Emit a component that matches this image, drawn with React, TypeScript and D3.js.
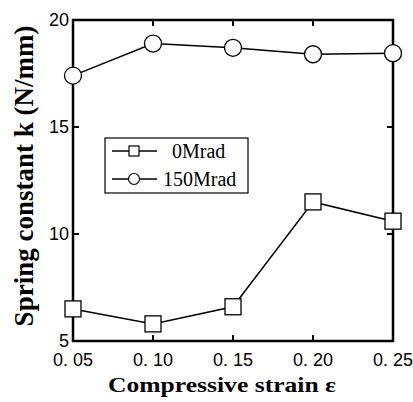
import * as d3 from "d3";
import { useEffect, useRef } from "react";

// strain values and spring constants
const strain = [0.05, 0.1, 0.15, 0.2, 0.25];
const k0 = [6.5, 5.8, 6.6, 11.5, 10.6];
const k150 = [17.4, 18.9, 18.7, 18.4, 18.45];
const xTicks = [0.05, 0.1, 0.15, 0.2, 0.25];
const xTickLabels = ["0. 05", "0. 10", "0. 15", "0. 20", "0. 25"];
const yTicks = [5, 10, 15, 20];
const seriesNames = ["0Mrad", "150Mrad"];

const App = () => {
  const ref = useRef<SVGSVGElement>(null);

  useEffect(() => {
    const svg = d3.select(ref.current);
    svg.selectAll("*").remove();

    const W = 413, H = 402;
    const margin = { top: 20, right: 20, bottom: 61, left: 73 };
    const width = W - margin.left - margin.right;
    const height = H - margin.top - margin.bottom;

    const g = svg.append("g").attr("transform", `translate(${margin.left},${margin.top})`);

    const x = d3.scaleLinear().domain([0.05, 0.25]).range([0, width]);
    const y = d3.scaleLinear().domain([5, 20]).range([height, 0]);

    // frame
    g.append("rect")
      .attr("width", width).attr("height", height)
      .attr("fill", "none").attr("stroke", "#000").attr("stroke-width", 2.5);

    // inward ticks on all sides
    const tl = 6;
    xTicks.forEach((t) => {
      g.append("line").attr("x1", x(t)).attr("x2", x(t)).attr("y1", height).attr("y2", height - tl)
        .attr("stroke", "#000").attr("stroke-width", 2);
      g.append("line").attr("x1", x(t)).attr("x2", x(t)).attr("y1", 0).attr("y2", tl)
        .attr("stroke", "#000").attr("stroke-width", 2);
    });
    yTicks.forEach((t) => {
      g.append("line").attr("x1", 0).attr("x2", tl).attr("y1", y(t)).attr("y2", y(t))
        .attr("stroke", "#000").attr("stroke-width", 2);
      g.append("line").attr("x1", width).attr("x2", width - tl).attr("y1", y(t)).attr("y2", y(t))
        .attr("stroke", "#000").attr("stroke-width", 2);
    });

    // tick labels
    g.selectAll(".xl").data(xTicks).enter().append("text")
      .attr("x", (d) => x(d)).attr("y", height + 25)
      .attr("text-anchor", "middle")
      .style("font", "18px 'Liberation Sans', Arial, sans-serif")
      .text((d, i) => xTickLabels[i]);
    g.selectAll(".yl").data(yTicks).enter().append("text")
      .attr("x", -4).attr("y", (d) => y(d) + 6)
      .attr("text-anchor", "end")
      .style("font", "18px 'Liberation Sans', Arial, sans-serif")
      .text((d) => d);

    // axis titles
    svg.append("text")
      .attr("transform", "translate(222, 392) scale(1.28,1)")
      .attr("text-anchor", "middle")
      .style("font", "bold 20px 'Liberation Serif', 'Times New Roman', serif")
      .text("Compressive strain  ε");
    svg.append("text")
      .attr("transform", `translate(33, 176) rotate(-90)`)
      .attr("text-anchor", "middle")
      .style("font", "bold 27px 'Liberation Serif', 'Times New Roman', serif")
      .text("Spring constant  k  (N/mm)");

    const line = d3.line<number>().x((d, i) => x(strain[i])).y((d) => y(d));

    // 0 Mrad, squares
    g.append("path").datum(k0).attr("d", line)
      .attr("fill", "none").attr("stroke", "#000").attr("stroke-width", 1.5);
    g.selectAll(".sq").data(k0).enter().append("rect")
      .attr("x", (d, i) => x(strain[i]) - 8).attr("y", (d) => y(d) - 8)
      .attr("width", 16).attr("height", 16)
      .attr("fill", "#fff").attr("stroke", "#000").attr("stroke-width", 1.3);

    // 150 Mrad, circles
    g.append("path").datum(k150).attr("d", line)
      .attr("fill", "none").attr("stroke", "#000").attr("stroke-width", 1.5);
    g.selectAll(".ci").data(k150).enter().append("circle")
      .attr("cx", (d, i) => x(strain[i])).attr("cy", (d) => y(d))
      .attr("r", 8.5)
      .attr("fill", "#fff").attr("stroke", "#000").attr("stroke-width", 1.3);

    // legend
    const lg = svg.append("g");
    lg.append("rect").attr("x", 105).attr("y", 138).attr("width", 143).attr("height", 55)
      .attr("fill", "#fff").attr("stroke", "#000").attr("stroke-width", 1.2);
    seriesNames.forEach((name, i) => {
      const cy = 151 + i * 28;
      lg.append("line").attr("x1", 112).attr("x2", 157).attr("y1", cy).attr("y2", cy)
        .attr("stroke", "#000").attr("stroke-width", 1.3);
      if (i === 0) {
        lg.append("rect").attr("x", 129).attr("y", cy - 5).attr("width", 10).attr("height", 10)
          .attr("fill", "#fff").attr("stroke", "#000").attr("stroke-width", 1.2);
      } else {
        lg.append("circle").attr("cx", 134).attr("cy", cy).attr("r", 5.5)
          .attr("fill", "#fff").attr("stroke", "#000").attr("stroke-width", 1.2);
      }
      lg.append("text").attr("x", i === 0 ? 172 : 163).attr("y", cy + 7)
        .style("font", "20px 'Liberation Serif', 'Times New Roman', serif")
        .text(name);
    });
  }, []);

  return (
    <svg ref={ref} width={413} height={402}
      style={{ position: "absolute", left: 0, top: 0, background: "#fff" }} />
  );
};

export default App;
